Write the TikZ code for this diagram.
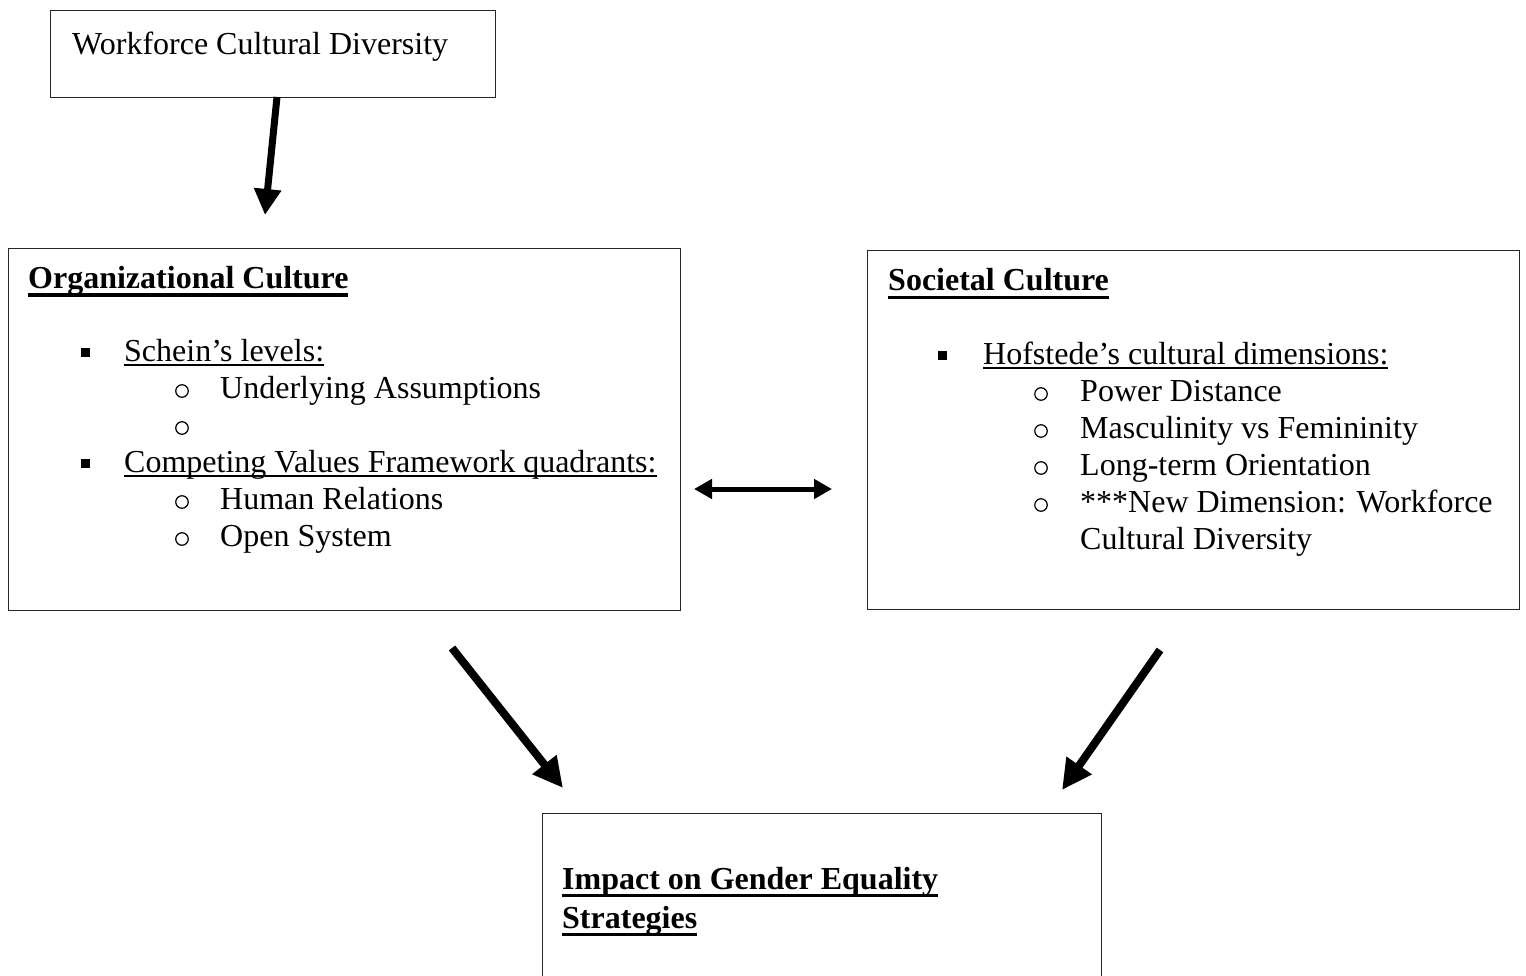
\documentclass[tikz,border=0pt]{standalone}
\usepackage{fontspec}
\setmainfont{Liberation Serif}
\usetikzlibrary{arrows.meta}
\newcommand\ulreg[1]{\setbox0\hbox{#1}\rlap{\rule[-5pt]{\wd0}{1.6pt}}\box0}
\newcommand\ulbold[1]{\setbox0\hbox{\bfseries #1}\rlap{\rule[-8pt]{\wd0}{3.5pt}}\box0}
\begin{document}
\begin{tikzpicture}[x=1pt,y=-1pt,
  box/.style={draw=black!85, line width=1pt, inner sep=0, anchor=north west},
  txt/.style={inner sep=0, anchor=base west, font=\fontsize{32}{37}\selectfont},
  sq/.style={fill=black, inner sep=0, minimum size=9pt},
  ob/.style={draw=black, circle, line width=1.2pt, inner sep=0, minimum size=12.5pt, yshift=7pt},
  bigarrow/.style={line width=7pt, -{Triangle[length=26pt,width=26pt]}},
  diagarrow/.style={line width=8pt, -{Triangle[length=30pt,width=29pt]}},
  dblarrow/.style={line width=5pt, {Triangle[length=18pt,width=19pt]}-{Triangle[length=18pt,width=19pt]}}]
\useasboundingbox (0,0) rectangle (1526,976);
\clip (0,0) rectangle (1526,976);
\fill[white] (0,0) rectangle (1526,976);

% Workforce box
\node[box, minimum width=445pt, minimum height=87pt] (wf) at (50,10) {};
\node[txt] (wft) at (72,55) {Workforce Cultural Diversity};

% Organizational culture box
\node[box, minimum width=672pt, minimum height=362pt] (org) at (8,248) {};
\node[txt] (orgt) at (28,289) {\ulbold{Organizational Culture}};
\node[sq] (orgb1) at (85,352) {};
\node[txt] (org1) at (124,361) {\ulreg{Schein’s levels:}};
\node[ob] (orgo1) at (182,398) {};
\node[txt] (org2) at (220,398) {Underlying Assumptions};
\node[ob] (orgo2) at (182,435) {};
\node[sq] (orgb2) at (85,463) {};
\node[txt] (org3) at (124,472) {\ulreg{Competing Values Framework quadrants:}};
\node[ob] (orgo3) at (182,509) {};
\node[txt] (org4) at (220,509) {Human Relations};
\node[ob] (orgo4) at (182,546) {};
\node[txt] (org5) at (220,546) {Open System};

% Societal culture box
\node[box, minimum width=652pt, minimum height=359pt] (soc) at (867,250) {};
\node[txt] (soct) at (888,291) {\ulbold{Societal Culture}};
\node[sq] (socb1) at (942,355) {};
\node[txt] (soc1) at (983,364) {\ulreg{Hofstede’s cultural dimensions:}};
\node[ob] (soco1) at (1041,401) {};
\node[txt] (soc2) at (1080,401) {Power Distance};
\node[ob] (soco2) at (1041,438) {};
\node[txt] (soc3) at (1080,438) {Masculinity vs Femininity};
\node[ob] (soco3) at (1041,475) {};
\node[txt] (soc4) at (1080,475) {Long-term Orientation};
\node[ob] (soco4) at (1041,512) {};
\node[txt] (soc5) at (1080,512) {***New Dimension: Workforce};
\node[txt] (soc6) at (1080,549) {Cultural Diversity};

% Impact box
\node[box, minimum width=559pt, minimum height=200pt] (imp) at (542,813) {};
\node[txt] (impt1) at (562,889) {\ulbold{Impact on Gender Equality}};
\node[txt] (impt2) at (562,928) {\ulbold{Strategies}};

% connector end points
\coordinate (wfout) at (277,97);
\coordinate (orgin) at (265,215);
\coordinate (orgout) at (452,648);
\coordinate (impinl) at (563,788);
\coordinate (socout) at (1160,650);
\coordinate (impinr) at (1062,790);
\coordinate (orgside) at (694,489);
\coordinate (socside) at (832,489);

\draw[bigarrow] (wfout) -- (orgin);
\draw[diagarrow] (orgout) -- (impinl);
\draw[diagarrow] (socout) -- (impinr);
\draw[dblarrow] (orgside) -- (socside);
\end{tikzpicture}
\end{document}
